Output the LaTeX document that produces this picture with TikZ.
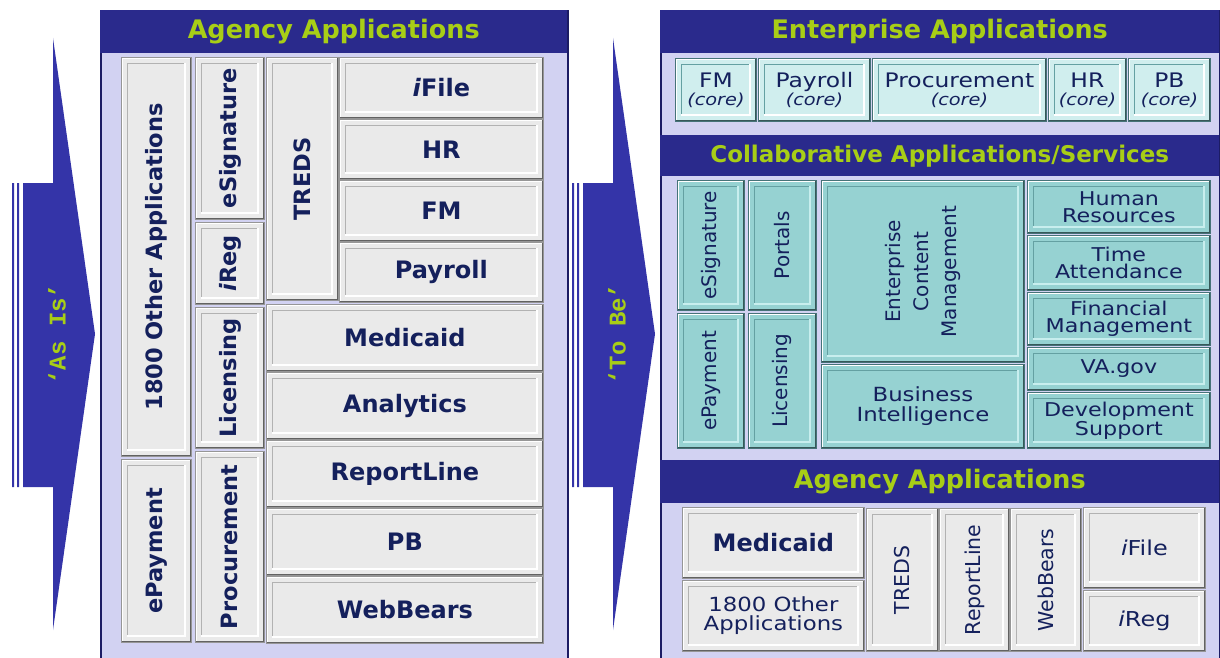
\documentclass[tikz,border=0pt]{standalone}
\usepackage{fontspec}
\setmainfont{DejaVu Sans}
\newfontfamily\arrowfont[BoldFont={Liberation Mono Bold}]{Liberation Mono}
\newfontfamily\servfont[FakeStretch=1.17]{DejaVu Sans}

\definecolor{arrowblue}{RGB}{52,52,168}
\definecolor{headblue}{RGB}{42,42,140}
\definecolor{headgreen}{RGB}{168,206,22}
\definecolor{lavender}{RGB}{210,210,242}
\definecolor{panelline}{RGB}{28,28,100}
\definecolor{grayfill}{RGB}{234,234,234}
\definecolor{grayline}{RGB}{150,150,150}
\definecolor{grayinset}{RGB}{178,178,178}
\definecolor{appink}{RGB}{20,32,92}
\definecolor{corefill}{RGB}{208,238,238}
\definecolor{tealfill}{RGB}{150,210,210}
\definecolor{tealline}{RGB}{70,115,120}
\definecolor{tealinset}{RGB}{100,160,162}
\definecolor{teallight}{RGB}{200,238,238}

\tikzset{panel/.style  = {rectangle, draw=panelline, fill=lavender, line width=2pt, anchor=north west,
		inner sep=0pt},
	header/.style    = {rectangle, fill=headblue, anchor=north west, inner sep=0pt, text=headgreen,
		font=\bfseries\fontsize{25.5}{27}\selectfont},
	arrowtext/.style = {rotate=90, text=headgreen, font=\arrowfont\bfseries\fontsize{24}{24}\selectfont},
	bevel/.style 2 args = {path picture={
			\path (path picture bounding box.south west) coordinate (bsw)
			(path picture bounding box.north east) coordinate (bne);
			\draw[white, line width=2.5pt] (bsw) |- (bne);
			\draw[#1!55!black, line width=3pt] (bsw) -| (bne);
			\draw[#1, line width=1.5pt] ([shift={(6pt,6pt)}]bsw) |- ([shift={(-6pt,-6pt)}]bne);
			\draw[#2, line width=2pt] ([shift={(6pt,6pt)}]bsw) -| ([shift={(-6pt,-6pt)}]bne);}},
	appbox/.style    = {rectangle, draw=grayline, fill=grayfill, line width=0.8pt, anchor=north west,
		inner sep=0pt, text=appink, align=center, font=\bfseries\fontsize{24}{26}\selectfont,
		bevel={grayinset}{white}},
	vappbox/.style   = {appbox, font=\bfseries\fontsize{22.5}{24}\selectfont},
	corebox/.style   = {appbox, fill=corefill, draw=tealline, font=\servfont\fontsize{20}{18}\selectfont,
		bevel={tealinset}{white}},
	servbox/.style   = {appbox, fill=tealfill, draw=tealline, font=\servfont\fontsize{19}{17}\selectfont,
		bevel={tealinset}{teallight}},
	vservbox/.style  = {servbox, font=\fontsize{20}{28}\selectfont},
	agbox/.style     = {appbox, font=\servfont\fontsize{19.5}{19}\selectfont},
	vagbox/.style    = {appbox, font=\fontsize{20.5}{22}\selectfont}
}
\newcommand{\coretag}{{\itshape\fontsize{16.5}{18}\selectfont(core)}}

\begin{document}
\begin{tikzpicture}[x=1pt, y=-1pt]
	\useasboundingbox (0,0) rectangle (1220,658);
	%% the two big arrows
	\foreach \dx/\lbl/\nm in {0/‘As Is’/asis, 560/‘To Be’/tobe}{
		\begin{scope}[shift={(\dx,0)}]
			\fill[arrowblue] (23,183) -- (53,183) -- (53,38) -- (95,334) -- (53,630) -- (53,487) -- (23,487) -- cycle;
			\fill[arrowblue] (12,183) rectangle (14,487) (17,183) rectangle (19,487);
			\node [arrowtext] (\nm) at (57,334) {\lbl};
		\end{scope}
	}
	%% left panel: as is
	\node [panel, minimum width=467, minimum height=650] (asispanel) at (100,10) {};
	\node [header, minimum width=467, minimum height=43] (asishead) at (100,10) {Agency Applications};
	\node [vappbox, minimum width=70, minimum height=399] (otherapps) at (121,57) {\rotatebox{90}{1800 Other Applications}};
	\node [vappbox, minimum width=70, minimum height=183] (epay) at (121,459) {\rotatebox{90}{ePayment}};
	\node [vappbox, minimum width=69, minimum height=162] (esign) at (195,57) {\rotatebox{90}{eSignature}};
	\node [vappbox, minimum width=69, minimum height=82] (ireg) at (195,222) {\rotatebox{90}{\textit{i}Reg}};
	\node [vappbox, minimum width=69, minimum height=141] (licensing) at (195,307) {\rotatebox{90}{Licensing}};
	\node [vappbox, minimum width=69, minimum height=191] (procure) at (195,451) {\rotatebox{90}{Procurement}};
	\node [vappbox, minimum width=72, minimum height=243] (treds) at (266,57) {\rotatebox{90}{TREDS}};
	\node [appbox, minimum width=204, minimum height=61] (ifile) at (339,57) {\textit{i}File};
	\node [appbox, minimum width=204, minimum height=60] (hr) at (339,119) {HR};
	\node [appbox, minimum width=204, minimum height=61] (fm) at (339,180) {FM};
	\node [appbox, minimum width=204, minimum height=60] (payroll) at (339,242) {Payroll};
	\node [appbox, minimum width=277, minimum height=67] (medicaid) at (266,304) {Medicaid};
	\node [appbox, minimum width=277, minimum height=67] (analytics) at (266,372) {Analytics};
	\node [appbox, minimum width=277, minimum height=67] (reportline) at (266,440) {ReportLine};
	\node [appbox, minimum width=277, minimum height=67] (pb) at (266,508) {PB};
	\node [appbox, minimum width=277, minimum height=67] (webbears) at (266,576) {WebBears};
	%% right panel: to be
	\node [panel, minimum width=559, minimum height=650] (tobepanel) at (660,10) {};
	\node [header, minimum width=559, minimum height=43] (enthead) at (660,10) {Enterprise Applications};
	\node [header, minimum width=559, minimum height=41, font=\bfseries\fontsize{23}{25}\selectfont] (collabhead) at (660,135) {Collaborative Applications/Services};
	\node [header, minimum width=559, minimum height=43] (agencyhead) at (660,460) {Agency Applications};
	% enterprise row
	\node [corebox, minimum width=81, minimum height=63] (fmcore) at (675,58) {FM\\\coretag};
	\node [corebox, minimum width=112, minimum height=63] (payrollcore) at (758,58) {Payroll\\\coretag};
	\node [corebox, minimum width=174, minimum height=63] (procurecore) at (872,58) {Procurement\\\coretag};
	\node [corebox, minimum width=78, minimum height=63] (hrcore) at (1048,58) {HR\\\coretag};
	\node [corebox, minimum width=82, minimum height=63] (pbcore) at (1128,58) {PB\\\coretag};
	% collaborative services
	\node [vservbox, minimum width=67, minimum height=130] (esign2) at (677,180) {\rotatebox{90}{eSignature}};
	\node [vservbox, minimum width=68, minimum height=130] (portals) at (748,180) {\rotatebox{90}{Portals}};
	\node [vservbox, minimum width=67, minimum height=135] (epay2) at (677,313) {\rotatebox{90}{ePayment}};
	\node [vservbox, minimum width=68, minimum height=135] (licensing2) at (748,313) {\rotatebox{90}{Licensing}};
	\node [vservbox, minimum width=203, minimum height=182] (ecm) at (821,180) {\rotatebox{90}{\begin{tabular}{@{}c@{}}Enterprise\\Content\\Management\end{tabular}}};
	\node [servbox, minimum width=203, minimum height=84, font=\servfont\fontsize{19.5}{20}\selectfont] (bi) at (821,364) {Business\\Intelligence};
	\node [servbox, minimum width=183, minimum height=53] (humanres) at (1027,180) {Human\\Resources};
	\node [servbox, minimum width=183, minimum height=55] (timeatt) at (1027,235) {Time\\Attendance};
	\node [servbox, minimum width=183, minimum height=53] (finman) at (1027,292) {Financial\\Management};
	\node [servbox, minimum width=183, minimum height=43] (vagov) at (1027,347) {VA.gov};
	\node [servbox, minimum width=183, minimum height=56] (devsup) at (1027,392) {Development\\Support};
	% agency applications
	\node [appbox, minimum width=182, minimum height=71] (medicaid2) at (682,507) {Medicaid};
	\node [agbox, minimum width=182, minimum height=71] (otherapps2) at (682,580) {1800 Other\\Applications};
	\node [vagbox, minimum width=72, minimum height=143] (treds2) at (866,508) {\rotatebox{90}{TREDS}};
	\node [vagbox, minimum width=70, minimum height=143] (reportline2) at (939,508) {\rotatebox{90}{ReportLine}};
	\node [vagbox, minimum width=71, minimum height=143] (webbears2) at (1010,508) {\rotatebox{90}{WebBears}};
	\node [agbox, minimum width=122, minimum height=81, font=\servfont\fontsize{20.5}{22}\selectfont] (ifile2) at (1083,507) {\textit{i}File};
	\node [agbox, minimum width=122, minimum height=61, font=\servfont\fontsize{20.5}{22}\selectfont] (ireg2) at (1083,590) {\textit{i}Reg};
\end{tikzpicture}
\end{document}
